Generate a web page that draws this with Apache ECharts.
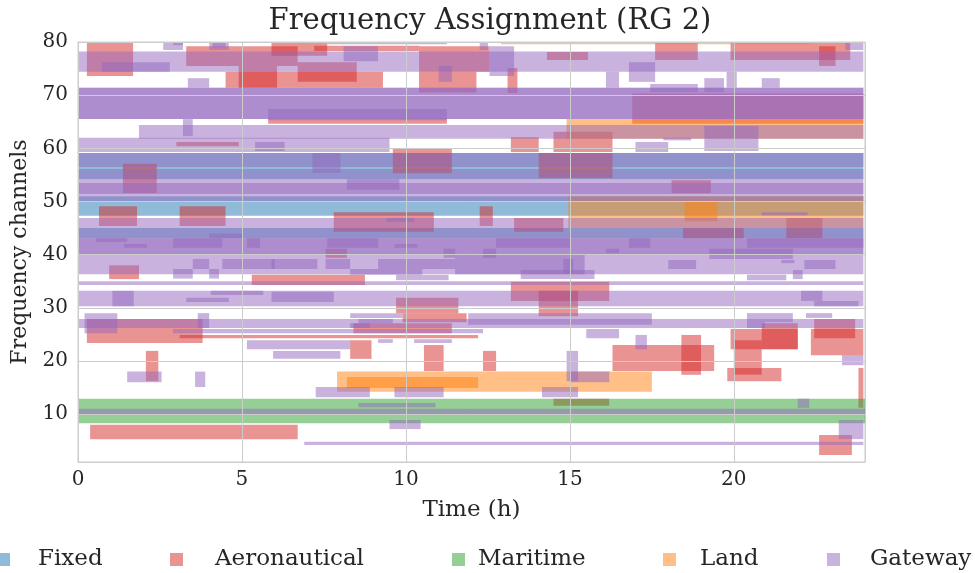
<!DOCTYPE html>
<html>
<head>
<meta charset="utf-8">
<script src="https://cdn.jsdelivr.net/npm/echarts@6/dist/echarts.min.js"></script>
<style>
  html, body { margin: 0; padding: 0; background: #ffffff; }
  #chart { width: 975px; height: 573px; }
</style>
</head>
<body>
<div id="chart"></div>
<script>
// Each slot: [start hour, end hour, lowest channel, highest channel]
const serviceNames = ['Fixed', 'Aeronautical', 'Maritime', 'Land', 'Gateway'];

const fixedSlots = [
  [0, 23.95, 54.2, 59.1],
  [0, 23.95, 47.3, 51.0],
  [0, 23.95, 43.1, 45.0]
];

const aeronauticalSlots = [
  [0.27, 1.68, 73.6, 80], [3.3, 6.7, 75.5, 79.2], [5.9, 7.6, 77.4, 80],
  [7.2, 10.4, 78.3, 79.3], [4.5, 9.3, 71.4, 74.4], [4.9, 6.07, 71.4, 75.5],
  [6.7, 8.5, 72.5, 76.2], [10.4, 12.55, 74.4, 79.2], [10.4, 12.15, 70.5, 74.4],
  [13.1, 13.4, 70.4, 75.1], [14.3, 15.55, 76.6, 78.1], [17.6, 18.9, 76.6, 80],
  [19.9, 23.55, 76.6, 80], [22.6, 23.1, 75.5, 79.2],
  [16.9, 23.95, 64.6, 70.3], [5.8, 11.25, 64.6, 65.6],
  [3.0, 4.9, 60.4, 61.2], [13.2, 14.05, 59.3, 62.1], [14.5, 16.3, 59.3, 63.1],
  [9.6, 11.4, 55.3, 60.0],
  [1.37, 2.4, 51.6, 57.1], [14.05, 16.3, 54.4, 59.1], [18.1, 19.3, 51.6, 54.0],
  [0.64, 1.8, 45.4, 49.1], [3.1, 4.5, 45.4, 49.1], [7.8, 10.85, 44.3, 48.0],
  [12.25, 12.65, 45.4, 49.1], [13.3, 14.8, 44.3, 46.9], [18.45, 20.3, 43.1, 45.0],
  [21.6, 22.7, 43.1, 46.9], [7.55, 8.2, 39.4, 41.1],
  [0.95, 1.86, 35.4, 38.0], [5.3, 8.75, 34.3, 36.2], [13.2, 16.2, 31.3, 34.9],
  [14.05, 15.25, 28.4, 33.2], [9.7, 11.6, 29.0, 31.9], [9.9, 11.85, 27.3, 29.0],
  [0.27, 3.8, 23.4, 27.9], [3.1, 12.2, 24.3, 24.9], [8.4, 11.4, 25.2, 27.1],
  [8.3, 8.95, 20.4, 23.9], [10.55, 11.15, 18.1, 23.0], [12.35, 12.75, 18.1, 21.9],
  [2.07, 2.45, 16.2, 21.9], [16.3, 19.4, 18.1, 23.0], [18.4, 19.0, 17.4, 24.9],
  [20.0, 20.85, 17.4, 23.9], [19.8, 21.45, 16.2, 18.7], [19.9, 21.95, 22.2, 26.0],
  [20.85, 21.95, 22.2, 27.1], [22.45, 23.7, 24.3, 27.9], [22.35, 23.95, 21.1, 26.0],
  [23.8, 23.95, 11.2, 18.7], [14.5, 16.2, 11.6, 12.9],
  [0.37, 6.7, 5.3, 8.0], [22.6, 23.6, 2.3, 6.1]
];

const maritimeSlots = [
  [0, 24, 8.3, 12.9]
];

const landSlots = [
  [14.95, 23.95, 45.0, 51.0], [18.5, 19.5, 46.3, 50.0], [14.9, 23.95, 61.8, 65.5],
  [12.9, 22.3, 79.6, 80.2], [7.9, 17.5, 14.2, 18.0], [8.2, 12.2, 14.9, 17.0]
];

const gatewaySlots = [
  [0, 23.95, 74.4, 78.2], [0.73, 2.8, 74.4, 76.2], [2.6, 3.2, 78.5, 80],
  [2.9, 3.2, 79.4, 80], [4.0, 4.6, 78.5, 80], [4.1, 4.5, 79.0, 80],
  [3.35, 4.0, 71.4, 73.2], [8.1, 9.15, 76.4, 79.2], [7.6, 11.25, 79.6, 80],
  [11.0, 11.4, 72.5, 75.5], [12.25, 12.5, 78.5, 80], [12.55, 13.3, 73.6, 79.2],
  [16.1, 16.5, 71.4, 74.4], [16.8, 17.6, 72.5, 76.2], [17.45, 18.9, 70.6, 72.1],
  [19.1, 19.7, 70.6, 73.2], [19.78, 20.09, 71.4, 74.4], [20.85, 21.4, 71.4, 73.2],
  [23.4, 23.95, 78.5, 80],
  [0, 23.95, 65.5, 71.4], [0, 23.95, 65.5, 71.4], [5.8, 11.25, 65.3, 67.4],
  [1.86, 23.95, 61.8, 64.4], [3.2, 3.5, 62.3, 65.5], [0, 9.5, 59.3, 62.0],
  [5.4, 6.3, 59.5, 61.2], [17.0, 18.0, 59.3, 61.2], [17.85, 18.7, 61.5, 62.0],
  [19.1, 20.75, 59.5, 64.2],
  [0, 23.95, 56.5, 59.1], [0, 23.95, 54.2, 56.1], [0, 23.95, 51.0, 54.2],
  [0, 23.95, 51.4, 53.5], [0, 23.95, 50.0, 51.0], [7.15, 8.0, 55.4, 59.1],
  [8.2, 9.8, 52.2, 54.2], [0, 23.95, 43.1, 46.9], [9.4, 10.25, 46.2, 46.9],
  [20.85, 22.25, 47.4, 48.0],
  [0, 23.95, 40.0, 43.1], [0, 23.95, 40.0, 43.1], [0.55, 1.5, 42.4, 43.1],
  [1.4, 2.1, 41.3, 42.0], [2.9, 4.4, 41.3, 43.1], [4.0, 5.0, 43.1, 44.0],
  [5.15, 5.55, 41.3, 43.1], [7.6, 9.15, 41.3, 43.1], [9.65, 10.35, 41.3, 42.0],
  [12.75, 15.0, 41.3, 43.1], [16.8, 17.45, 41.3, 43.1], [20.4, 23.95, 41.3, 43.1],
  [11.15, 11.5, 39.4, 41.1], [12.35, 12.75, 39.4, 41.1], [16.1, 16.5, 40.3, 41.1],
  [19.25, 21.8, 39.2, 41.1],
  [0, 23.95, 36.3, 40.0], [11.5, 15.45, 36.3, 40.0], [3.5, 4.0, 37.3, 39.2],
  [4.4, 6.0, 37.3, 39.2], [5.9, 7.3, 37.3, 39.2], [7.55, 8.3, 37.3, 39.2],
  [9.15, 11.5, 37.3, 39.2], [14.8, 15.1, 36.5, 39.2], [18.0, 18.85, 37.3, 39.0],
  [21.45, 21.85, 38.4, 39.0], [22.15, 23.1, 37.3, 39.0], [8.3, 10.5, 36.2, 37.3],
  [2.9, 3.5, 35.5, 37.3], [4.0, 4.3, 35.5, 37.3], [13.5, 15.75, 35.4, 37.1],
  [21.8, 22.1, 35.4, 37.1], [9.7, 10.5, 35.2, 36.2], [10.5, 11.3, 35.2, 36.2],
  [20.4, 21.6, 35.2, 36.2], [0, 23.95, 34.3, 35.0],
  [0, 23.95, 30.3, 33.2], [1.05, 1.7, 30.3, 33.2], [4.05, 5.65, 32.4, 33.2],
  [3.3, 4.6, 31.1, 31.9], [5.9, 7.8, 31.1, 33.0], [22.05, 22.7, 31.3, 33.2],
  [22.45, 23.8, 30.3, 31.3],
  [0.2, 1.2, 25.2, 29.0], [3.65, 4.0, 26.2, 29.0], [0, 23.95, 26.2, 27.9],
  [2.9, 12.35, 25.2, 26.0], [8.3, 9.9, 28.1, 29.0], [8.3, 8.9, 26.2, 27.1],
  [8.55, 9.6, 27.1, 27.9], [11.9, 17.5, 26.8, 29.0], [20.4, 20.95, 26.2, 29.0],
  [20.95, 21.8, 27.3, 29.0], [22.2, 23.0, 28.1, 29.0], [15.5, 16.5, 24.3, 26.0],
  [5.15, 8.3, 22.2, 23.9], [5.95, 8.0, 20.4, 21.9], [9.15, 9.6, 23.4, 24.1],
  [10.25, 11.4, 23.4, 24.1], [17.0, 17.35, 22.2, 24.9], [23.3, 23.95, 19.2, 21.1],
  [1.5, 2.55, 16.0, 18.0], [3.57, 3.88, 15.1, 18.0], [14.9, 15.25, 16.2, 21.9],
  [15.0, 16.2, 16.0, 18.0], [7.25, 8.9, 13.2, 15.1], [9.65, 11.15, 13.2, 15.1],
  [14.15, 15.25, 13.2, 15.1],
  [0, 24, 10.0, 11.0], [8.55, 10.9, 11.3, 12.1], [21.95, 22.3, 11.2, 12.9],
  [9.5, 10.45, 7.2, 8.9], [23.2, 23.95, 5.3, 8.9], [6.9, 23.95, 4.2, 4.8]
];

const hourTicks = [0, 5, 10, 15, 20];
const channelTicks = [10, 20, 30, 40, 50, 60, 70, 80];

const serviceSlots = [fixedSlots, aeronauticalSlots, maritimeSlots, landSlots, gatewaySlots];
const serviceColors = [
  'rgba(31,119,180,0.5)',
  'rgba(214,39,40,0.5)',
  'rgba(44,160,44,0.5)',
  'rgba(255,127,14,0.5)',
  'rgba(148,103,189,0.5)'
];

const FONT = 'DejaVu Serif';
const INK = '#262626';

function renderSlot(params, api) {
  const a = api.coord([api.value(0), api.value(3)]);
  const b = api.coord([api.value(1), api.value(2)]);
  const cs = params.coordSys;
  const shape = echarts.graphic.clipRectByRect(
    { x: a[0], y: a[1], width: b[0] - a[0], height: b[1] - a[1] },
    { x: cs.x, y: cs.y, width: cs.width, height: cs.height }
  );
  return shape && {
    type: 'rect',
    shape: shape,
    style: { fill: api.visual('color') }
  };
}

// legend: icon left edge and gap from icon to its label
const legendLeft = [-8, 165, 447, 658, 822];
const legendTextPad = [23, 27, 8, 19, 25];

const chart = echarts.init(document.getElementById('chart'), null, { renderer: 'canvas' });
chart.setOption({
  animation: false,
  backgroundColor: '#ffffff',
  title: {
    text: 'Frequency Assignment (RG 2)',
    left: 485, top: 2, textAlign: 'center',
    textStyle: { fontFamily: FONT, fontSize: 29, fontWeight: 'normal', color: INK }
  },
  grid: {
    left: 78, right: 110, top: 42, bottom: 111,
    outerBoundsMode: 'none', containLabel: false,
    show: true, borderColor: '#cccccc', borderWidth: 1
  },
  legend: serviceNames.map((name, i) => ({
    data: [name],
    left: legendLeft[i], top: 543,
    icon: 'rect', itemWidth: 13, itemHeight: 13,
    textStyle: { fontFamily: FONT, fontSize: 23, color: INK, padding: [0, 0, 0, legendTextPad[i]] },
    selectedMode: false
  })),
  xAxis: {
    type: 'value', min: 0, max: 24, interval: 5, z: 5,
    name: 'Time (h)', nameLocation: 'middle', nameGap: 37,
    nameTextStyle: { fontFamily: FONT, fontSize: 23, color: INK },
    axisLine: { show: true, lineStyle: { color: '#cccccc', width: 1 } },
    axisTick: { show: false },
    axisLabel: {
      fontFamily: FONT, fontSize: 20, color: INK, margin: 8,
      formatter: v => hourTicks.includes(v) ? String(v) : ''
    },
    splitLine: { show: true, lineStyle: { color: '#cccccc', width: 1 } }
  },
  yAxis: {
    type: 'value', min: 1, max: 80, splitNumber: 8, z: 5,
    name: 'Frequency channels', nameLocation: 'middle', nameGap: 45, nameRotate: 90,
    nameTextStyle: { fontFamily: FONT, fontSize: 22, color: INK },
    axisLine: { show: true, lineStyle: { color: '#cccccc', width: 1 } },
    axisTick: { show: false },
    axisLabel: {
      fontFamily: FONT, fontSize: 20, color: INK, margin: 10,
      formatter: v => channelTicks.includes(v) ? String(v) : ''
    },
    splitLine: { show: true, lineStyle: { color: '#cccccc', width: 1 } }
  },
  series: serviceNames.map((name, i) => ({
    type: 'custom',
    name: name,
    renderItem: renderSlot,
    itemStyle: { color: serviceColors[i] },
    encode: { x: [0, 1], y: [2, 3] },
    data: serviceSlots[i],
    z: 2
  }))
});
</script>
</body>
</html>
